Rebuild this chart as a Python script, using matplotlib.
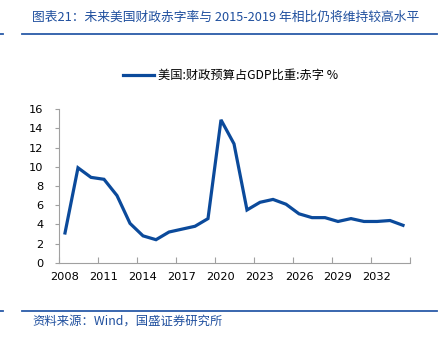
import matplotlib
matplotlib.use("Agg")
import matplotlib.pyplot as plt
from matplotlib.lines import Line2D
from matplotlib.ticker import FixedLocator

years = list(range(2008, 2035))
deficit = [3.1, 9.9, 8.9, 8.7, 7.0, 4.1, 2.8, 2.4, 3.2, 3.5, 3.8, 4.6,
           14.9, 12.4, 5.5, 6.3, 6.6, 6.1, 5.1, 4.7, 4.7, 4.3, 4.6, 4.3,
           4.3, 4.4, 3.9]
yticks = [0, 2, 4, 6, 8, 10, 12, 14, 16]
xlabel_years = [2008, 2011, 2014, 2017, 2020, 2023, 2026, 2029, 2032]

title = "图表21：未来美国财政赤字率与 2015-2019 年相比仍将维持较高水平"
source = "资料来源：Wind，国盛证券研究所"
legend_label = "美国:财政预算占GDP比重:赤字 %"

plt.rcParams['font.family'] = ['DejaVu Sans', 'Noto Sans CJK SC']
W, H = 440, 338
fig = plt.figure(figsize=(W / 100, H / 100), dpi=100)
ax = fig.add_axes([58.5 / W, (H - 262.7) / H, (409.5 - 58.5) / W, (262.7 - 109.3) / H])

line_color = '#0B4A9B'
xs = list(range(len(years)))
ln, = ax.plot(xs, deficit, color=line_color, lw=2.3, solid_joinstyle='miter',
              label=legend_label)

ax.set_xlim(-0.5, len(years) - 0.5)
ax.set_ylim(0, 16)
ax.set_yticks(yticks)
ax.set_yticklabels([str(v) for v in yticks])

# category axis: ticks at boundaries every 3 categories, labels at centers
ax.xaxis.set_major_locator(FixedLocator([i - 0.5 for i in range(0, len(years) + 1, 3)]))
ax.xaxis.set_major_formatter(plt.NullFormatter())
ax.xaxis.set_minor_locator(FixedLocator([years.index(y) for y in xlabel_years]))
ax.set_xticklabels([str(y) for y in xlabel_years], minor=True)
ax.tick_params(axis='x', which='major', direction='in', length=4, color='#A0A0A0', width=0.8)
ax.tick_params(axis='x', which='minor', length=0, pad=7, labelsize=8.2, labelcolor='black')
ax.tick_params(axis='y', direction='out', length=3, color='#A0A0A0', width=0.8,
               labelsize=8.2, pad=8)

for s in ['top', 'right']:
    ax.spines[s].set_visible(False)
for s in ['left', 'bottom']:
    ax.spines[s].set_color('#A0A0A0')
    ax.spines[s].set_linewidth(0.8)

leg = ax.legend(handles=[ln], loc='center left',
                bbox_to_anchor=(123 / W, (H - 75.7) / H),
                bbox_transform=fig.transFigure, frameon=False,
                borderpad=0, borderaxespad=0, handlelength=2.5,
                handletextpad=0.4,
                prop={'family': ['Noto Sans CJK SC', 'DejaVu Sans'], 'size': 8.8})

title_color = '#1F4F9E'
fig.text(32 / W, (H - 17) / H, title, color=title_color, fontsize=9.2,
         style='italic', va='center', ha='left',
         family=['Noto Sans CJK SC', 'DejaVu Sans'])
fig.add_artist(Line2D([22 / W, 437 / W], [(H - 34) / H] * 2, color='#2A5BA8', lw=1.3))
fig.add_artist(Line2D([0, 3 / W], [(H - 34) / H] * 2, color='#2A5BA8', lw=1.3))
fig.add_artist(Line2D([22 / W, 437 / W], [(H - 310.7) / H] * 2, color='#2A5BA8', lw=1.3))
fig.add_artist(Line2D([0, 3 / W], [(H - 310.7) / H] * 2, color='#2A5BA8', lw=1.3))
fig.text(32 / W, (H - 321) / H, source, color=title_color, fontsize=8.9,
         style='italic', va='center', ha='left',
         family=['Noto Sans CJK SC', 'DejaVu Sans'])

fig.savefig('out.png', dpi=100)
